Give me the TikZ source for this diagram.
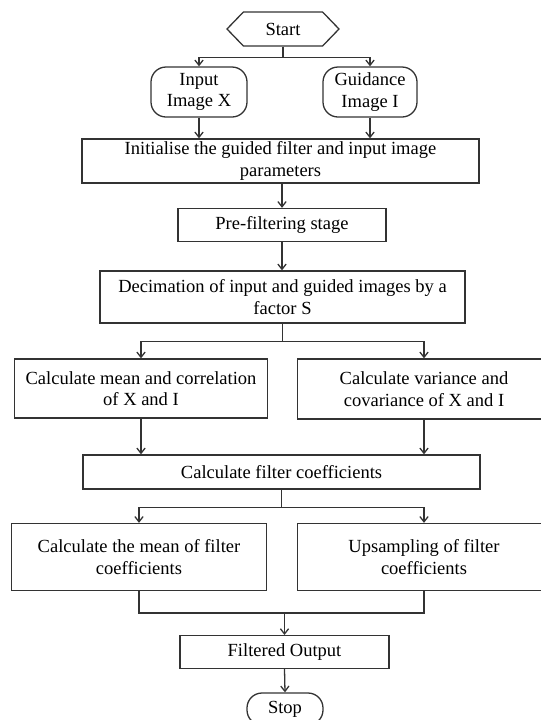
\documentclass[tikz,border=0pt]{standalone}
\usepackage{fontspec}
\setmainfont{Liberation Serif}
\usepackage{tikz}
\usetikzlibrary{
        arrows.meta,
        positioning,
        shapes,
        shapes.symbols
    }
\tikzset{>={Straight Barb[length=4.5pt,width=7pt]},shorten >=0pt}
\tikzset{
    block/.style={draw=black!80,rectangle,align=center,inner sep=2pt,
        font=\fontsize{15.8}{18.5}\selectfont},
    term/.style={block,rounded corners=0.45cm},
    hexa/.style={block,signal,signal to=west and east,signal pointer angle=92}
}

\begin{document}
\begin{tikzpicture}[x=0.03cm,y=-0.03cm,line width=1.1pt,draw=black!80]
        \clip (0,0) rectangle (541,720);
        \fill[white] (0,0) rectangle (541,720);

        \node[hexa,minimum width=3.36cm,minimum height=1.02cm] (start) at (283,29) {Start};
        \node[term,minimum width=2.88cm,minimum height=1.5cm] (inx) at (199,92) {Input\\Image X};
        \node[term,minimum width=2.82cm,minimum height=1.5cm] (ing) at (370,92) {Guidance\\Image I};
        \node[block,minimum width=11.91cm,minimum height=1.32cm] (init) at (280.5,161) {Initialise the guided filter and input image\\parameters};
        \node[block,minimum width=6.24cm,minimum height=0.99cm] (pre) at (282,225) {Pre-filtering stage};
        \node[block,minimum width=10.95cm,minimum height=1.56cm] (dec) at (282.5,297) {Decimation of input and guided images by a\\factor S};
        % the two statistics branches
        \node[block,minimum width=7.6cm,minimum height=1.77cm] (mean) at (141,388.5) {Calculate mean and correlation\\of X and I};
        \node[block,minimum width=7.6cm,minimum height=1.8cm] (var) at (424,389) {Calculate variance and\\covariance of X and I};
        \node[block,minimum width=11.91cm,minimum height=1.02cm] (coef) at (281.5,472) {Calculate filter coefficients};
        \node[block,minimum width=7.63cm,minimum height=2.01cm] (fmean) at (139,557) {Calculate the mean of filter\\coefficients};
        \node[block,minimum width=7.6cm,minimum height=2.01cm] (ups) at (424,557) {Upsampling of filter\\coefficients};
        \node[block,minimum width=6.27cm,minimum height=0.98cm] (out) at (284.5,652) {Filtered Output};
        \node[term,minimum width=2.28cm,minimum height=0.96cm] (stop) at (285,709) {Stop};
        \coordinate (mrg) at (284.5,613);

        \draw[->] (start.south) -- ++(0,11) -| (inx.north);
        \draw[->] (start.south) -- ++(0,11) -| (ing.north);
        \draw[->] (inx.south) -- (inx.south |- init.north);
        \draw[->] (ing.south) -- (ing.south |- init.north);
        \draw[->] (init.south -| pre.north) -- (pre.north);
        \draw[->] (pre.south) -- (pre.south |- dec.north);
        \draw[->] (dec.south) -- ++(0,18) -| (mean.north);
        \draw[->] (dec.south) -- ++(0,18) -| (var.north);
        \draw[->] (mean.south) -- (mean.south |- coef.north);
        \draw[->] (var.south) -- (var.south |- coef.north);
        \draw[->] (coef.south) -- ++(0,18) -| (fmean.north);
        \draw[->] (coef.south) -- ++(0,18) -| (ups.north);
        \draw (fmean.south) |- (mrg) -| (ups.south);
        \draw[->] (mrg) -- (out.north);
        \draw[->] (out.south) -- (stop.north);
    \end{tikzpicture}
\end{document}
